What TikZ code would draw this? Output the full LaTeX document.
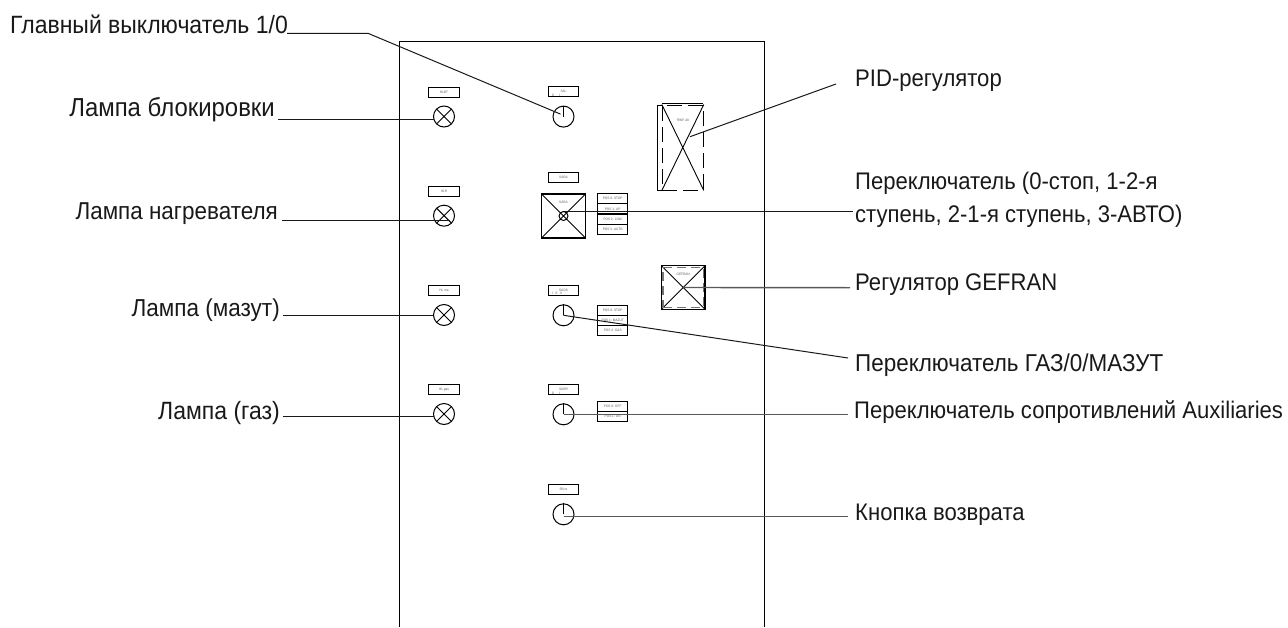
\documentclass[tikz,border=0pt]{standalone}
\usepackage{fontspec}
\setmainfont{Liberation Sans}[FakeStretch=0.92]
\usetikzlibrary{calc}
\tikzset{
  wire/.style={line width=1pt, black!90},
  greywire/.style={line width=1.4pt, black!65},
  caption/.style={inner sep=0pt, font=\fontsize{24}{33}\selectfont, text=black!90},
  tag/.style={draw, line width=1pt, minimum width=30.5pt, minimum height=10pt, inner sep=0pt, font=\fontsize{3.4}{4}\selectfont, text=black!65},
  dial/.style={draw, circle, line width=1pt, minimum size=21pt, inner sep=0pt},
  lamp/.style={dial, path picture={
    \draw[line width=1pt] (path picture bounding box.north west)--(path picture bounding box.south east)
      (path picture bounding box.north east)--(path picture bounding box.south west);}},
  crossbox/.style={draw, line width=1.1pt, inner sep=0pt, path picture={
    \draw[line width=0.9pt] (path picture bounding box.north west)--(path picture bounding box.south east)
      (path picture bounding box.north east)--(path picture bounding box.south west);}},
  posrow/.style={draw, line width=1pt, minimum width=30.5pt, minimum height=10pt, inner sep=0pt, font=\fontsize{3.4}{4}\selectfont, text=black!65},
  tinytext/.style={font=\fontsize{3.4}{4}\selectfont, text=black!65, inner sep=0pt}
}
\newcommand{\hand}[1]{\draw[line width=1pt] (#1.center)--(#1.north);}
\begin{document}
\begin{tikzpicture}[x=1pt, y=-1pt]
\useasboundingbox (0,0) rectangle (1288,627);
% panel
\draw[line width=0.9pt] (399,627)--(399,41)--(764,41)--(764,627);
% lamps
\foreach \name/\y/\txt in {lblock/116.5/HLBT, lheat/215.7/HLR, lmaz/315/HL ma, lgas/414/HL gas}{
  \node[tag] (tag\name) at (444,\y-24.5) {\txt};
  \node[lamp] (\name) at (444,\y) {};
}
% switches
\foreach \name/\y/\txt in {smain/116.6/SAL, sfuel/315.3/SAOS, sres/414.3/SARR, sback/514.3/SB re}{
  \node[tag] (tag\name) at (563.5,\y-25) {\txt};
  \node[dial] (\name) at (563.5,\y) {};
  \hand{\name}
}
\node[tinytext] (marksmain) at (556,95) {0\hspace{5pt}I};
\node[tinytext] (marksfuel) at (557,293.5) {I\hspace{3pt}0\hspace{3pt}II};
\node[tinytext] (marksres) at (556,393.5) {0\hspace{5pt}I};
\node[tag] (tagstep) at (563.5,177) {SARA};
\node[crossbox, minimum size=44pt] (stepbox) at (563.5,216) {};
\node[tinytext] (stepname) at (563.5,202.5) {SARA};
\node[draw, circle, fill=white, line width=1pt, minimum size=9pt, inner sep=0pt, path picture={
  \draw[line width=0.8pt] (path picture bounding box.north west)--(path picture bounding box.south east)
    (path picture bounding box.north east)--(path picture bounding box.south west);}] (step) at (563.5,216) {};
% position tables
\node[posrow] (pa) at (612.7,198.7) {POS 0: STOP};
\node[posrow] (pb) at (612.7,208.9) {POS 1: UP};
\node[posrow] (pc) at (612.7,219) {POS 2: LOW};
\node[posrow] (pd) at (612.7,229.2) {POS 3: AUTO};
\node[posrow] (qa) at (612.7,310.7) {POS 0: STOP};
\node[posrow] (qb) at (612.7,320.7) {POS 1: MAZUT};
\node[posrow] (qc) at (612.7,330.7) {POS 2: GAS};
\node[posrow] (ra) at (612.7,406.3) {POS 0: OFF};
\node[posrow] (rb) at (612.7,416.3) {POS 1: ON};
% PID
\node[draw, dash pattern=on 15pt off 6pt, line width=1pt, minimum width=41pt, minimum height=85pt, inner sep=0pt] (pid) at (682.8,147.5) {};
\draw[line width=0.9pt] (pid.north west)--(pid.south east) (pid.north east)--(pid.south west);
\draw[line width=1pt] (662.3,103.3)--(703.3,103.3) (662.3,105.7)--(657.3,105.7)--(657.3,190)--(662.3,190);
\node[tinytext] (pidname) at (683,120.5) {RWF-40};
% GEFRAN
\node[crossbox, minimum size=43.5pt, line width=1.2pt] (gefran) at (683.2,287.5) {};
\node[draw=black!55, dash pattern=on 9pt off 5pt, line width=1.2pt, minimum size=40.5pt, inner sep=0pt] (gefdash) at (683.2,287.5) {};
\node[tinytext] (gefname) at (683.2,274.5) {GEFRAN};
% labels
\node[caption, anchor=base west, font=\fontsize{25}{30}\selectfont] (tmain) at (10,33) {Главный выключатель 1/0};
\node[caption, anchor=base east, font=\fontsize{26}{30}\selectfont] (tblock) at (275,116) {Лампа блокировки};
\node[caption, anchor=base east, font=\fontsize{24.4}{30}\selectfont] (theat) at (278,219) {Лампа нагревателя};
\node[caption, anchor=base east, font=\fontsize{24.5}{30}\selectfont] (tmaz) at (280,316) {Лампа (мазут)};
\node[caption, anchor=base east, font=\fontsize{25}{30}\selectfont] (tgas) at (280,419) {Лампа (газ)};
\node[caption, anchor=base west] (tpid) at (855,86) {PID-регулятор};
\node[caption, anchor=base west] (tstep) at (855,189) {Переключатель (0-стоп, 1-2-я};
\node[caption, anchor=base west] (tstepb) at (855,222) {ступень, 2-1-я ступень, 3-АВТО)};
\node[caption, anchor=base west] (tgef) at (855,290) {Регулятор GEFRAN};
\node[caption, anchor=base west, font=\fontsize{24.4}{30}\selectfont] (tfuel) at (855,371) {Переключатель ГАЗ/0/МАЗУТ};
\node[caption, anchor=base west] (tres) at (854,418) {Переключатель сопротивлений Auxiliaries};
\node[caption, anchor=base west] (tback) at (855,520) {Кнопка возврата};
% leaders
\coordinate (kmain) at (368,33.3);
\draw[wire] (287,33.3)--(kmain)--($(smain.center)+(-3,-2.5)$);
\draw[wire] (278,119.3)--(434,119.3);
\draw[wire] (282,220.7)--(450,220.7);
\draw[wire] (282.7,315)--(lmaz.west);
\draw[wire] (282.7,416.7)--(434,416.7);
\draw[wire] (836,84)--(690,136.7);
\draw[wire] (step.center)++(0,-4.7)--(853,211.3);
\draw[greywire] (gefran.center)--(850,287.7);
\draw[wire] (sfuel.center)--(848,358);
\draw[greywire] (sres.center)--(848,414.3);
\draw[greywire] ($(sback.center)+(0,2)$)--(848,516.3);
\end{tikzpicture}
\end{document}
